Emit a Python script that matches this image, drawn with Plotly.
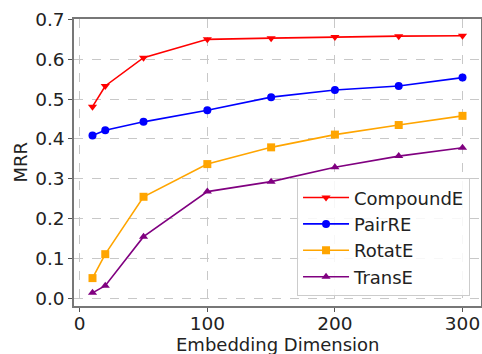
import plotly.graph_objects as go

dims = [10, 20, 50, 100, 150, 200, 250, 300]
compounde = [0.481, 0.533, 0.604, 0.650, 0.653, 0.656, 0.658, 0.659]
pairre = [0.409, 0.422, 0.443, 0.472, 0.505, 0.523, 0.533, 0.554]
rotate = [0.051, 0.111, 0.255, 0.337, 0.379, 0.411, 0.435, 0.458]
transe = [0.014, 0.032, 0.155, 0.268, 0.293, 0.329, 0.357, 0.378]

x_ticks = [0, 100, 200, 300]
y_ticks = [0.0, 0.1, 0.2, 0.3, 0.4, 0.5, 0.6, 0.7]
x_title = "Embedding Dimension"
y_title = "MRR"

series = [
    ("CompoundE", compounde, "red", "triangle-down"),
    ("PairRE", pairre, "blue", "circle"),
    ("RotatE", rotate, "orange", "square"),
    ("TransE", transe, "purple", "triangle-up"),
]

fig = go.Figure()
for name, vals, color, sym in series:
    fig.add_trace(go.Scatter(
        x=dims, y=vals, name=name, mode="lines+markers",
        line=dict(color=color, width=1.6),
        marker=dict(symbol=sym, size=8, color=color),
    ))

font = dict(family="DejaVu Sans", size=18, color="#222222")
tfont = dict(family="DejaVu Sans", size=18.5, color="#222222")
axis_common = dict(
    showline=True, linecolor="#777777", linewidth=1.5, mirror=True,
    ticks="outside", ticklen=4, tickcolor="#555555", tickwidth=1,
    showgrid=True, gridcolor="#c8c8c8", griddash="dash", gridwidth=1,
    zeroline=False, tickfont=tfont, automargin=False,
)

fig.update_layout(
    width=482, height=354,
    margin=dict(l=74, r=1, t=19, b=48),
    paper_bgcolor="white", plot_bgcolor="white",
    font=font,
    xaxis=dict(range=[-4.5, 314.5], tickvals=x_ticks, ticklabelstandoff=-4,
               **axis_common),
    yaxis=dict(range=[-0.019, 0.701], tickvals=y_ticks, tickformat=".1f",
               **axis_common),
    legend=dict(
        x=0.548, y=0.445, xanchor="left", yanchor="top",
        bgcolor="rgba(255,255,255,0.85)", bordercolor="#cccccc", borderwidth=1,
        font=font, itemwidth=46, tracegroupgap=0,
    ),
    showlegend=True,
)

fig.add_annotation(text=x_title, xref="paper", yref="paper", x=0.5, y=0,
                   xanchor="center", yanchor="top", yshift=-26,
                   showarrow=False, font=font)
fig.add_annotation(text=y_title, xref="paper", yref="paper", x=0, y=0.5,
                   xanchor="center", yanchor="middle", xshift=-54,
                   textangle=-90, showarrow=False, font=font)

fig.write_html("out.html")
